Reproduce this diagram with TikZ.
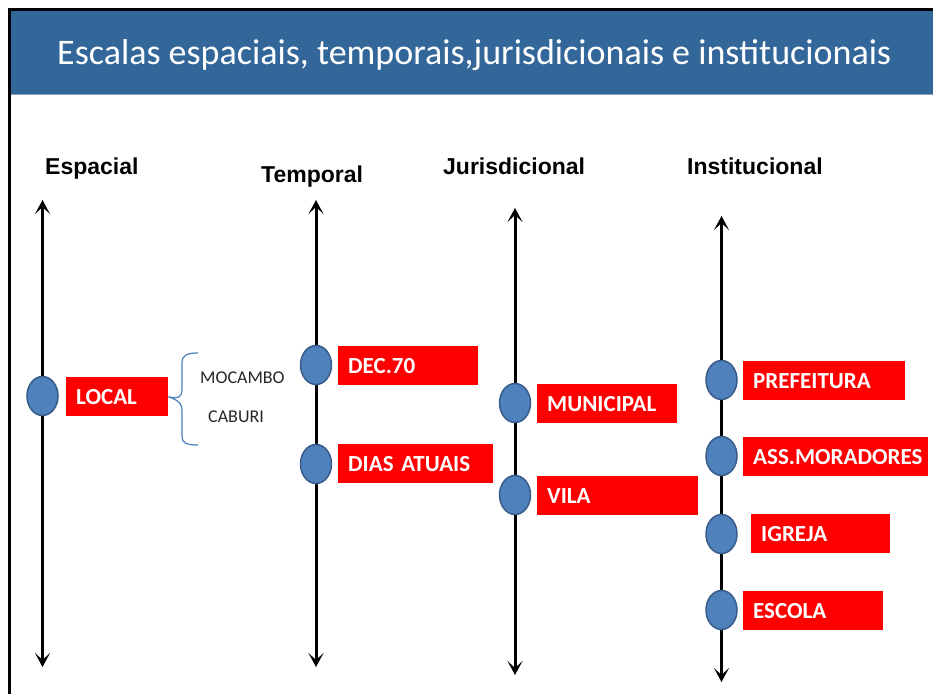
\documentclass[tikz,border=0pt]{standalone}
\usepackage{fontspec}
\setmainfont{Carlito}
\newfontfamily\headfont{Liberation Sans}
\usetikzlibrary{arrows.meta,shapes.geometric}
\definecolor{hdrblue}{HTML}{336699}
\definecolor{ellfill}{HTML}{4F81BD}
\definecolor{elldraw}{HTML}{385D8A}
\definecolor{boxred}{HTML}{FF0000}
\definecolor{bracecol}{HTML}{4A7EBB}
\definecolor{smalltext}{HTML}{262626}
\tikzset{
  redbox/.style={fill=boxred, draw=none, anchor=north west, minimum height=39pt,
    inner xsep=10pt, inner ysep=0pt, text height=14.8pt, text depth=0pt,
    align=left, text=white, font=\bfseries\fontsize{23}{27}\selectfont},
  dot/.style={ellipse, fill=ellfill, draw=elldraw, line width=1.5pt,
    minimum width=31pt, minimum height=39pt, inner sep=0pt},
  axis/.style={line width=3pt, {Stealth[length=14pt,width=15pt,inset=7pt]}-{Stealth[length=14pt,width=15pt,inset=7pt]}},
  colhead/.style={anchor=base west, inner sep=0pt, font=\headfont\bfseries\fontsize{23}{27}\selectfont},
  sidetext/.style={anchor=base west, inner sep=0pt, text=smalltext, font=\fontsize{18}{21}\selectfont},
}
\begin{document}
\begin{tikzpicture}[x=1pt,y=-1pt]
\useasboundingbox (0,0) rectangle (933,693);
\fill[white] (0,0) rectangle (933,693);
% header
\fill[hdrblue] (11,11) rectangle (940,94);
\draw[line width=1pt, color=hdrblue!60!white] (11,94.5) -- (940,94.5);
\draw[line width=2.5pt] (9.5,700) -- (9.5,9.5) -- (940,9.5);
\node[anchor=base west, inner sep=0pt, text=white, font=\fontsize{36}{40}\selectfont] (title) at (57,64) {Escalas espaciais, temporais,jurisdicionais e institucionais};
% column headings
\node[colhead] (hesp) at (45,174) {Espacial};
\node[colhead] (htem) at (261,182) {Temporal};
\node[colhead] (hjur) at (443,174) {Jurisdicional};
\node[colhead] (hins) at (687,174) {Institucional};
% axes
\coordinate (a1top) at (42.5,200); \coordinate (a1bot) at (42.5,667);
\coordinate (a2top) at (316,200);  \coordinate (a2bot) at (316,667);
\coordinate (a3top) at (515,208);  \coordinate (a3bot) at (515,675);
\coordinate (a4top) at (721.5,216);\coordinate (a4bot) at (721.5,682);
\draw[axis] (a1bot) -- (a1top);
\draw[axis] (a2bot) -- (a2top);
\draw[axis] (a3bot) -- (a3top);
\draw[axis] (a4bot) -- (a4top);
% dots
\node[dot] (e1) at (42.5,396) {};
\node[dot] (t1) at (316,365) {};
\node[dot] (t2) at (316,464) {};
\node[dot] (j1) at (515,403) {};
\node[dot] (j2) at (515,495) {};
\node[dot] (i1) at (721.5,380) {};
\node[dot] (i2) at (721.5,456) {};
\node[dot] (i3) at (721.5,534) {};
\node[dot] (i4) at (721.5,610) {};
% red boxes
\node[redbox, text width=82pt]  (local)  at (66,377)  {LOCAL};
\node[redbox, text width=120pt] (dec)    at (338,346) {DEC.70};
\node[redbox, text width=135pt] (dias)   at (338,444) {DIAS ATUAIS};
\node[redbox, text width=120pt] (muni)   at (537,384) {MUNICIPAL};
\node[redbox, text width=141pt] (vila)   at (537,476) {VILA};
\node[redbox, text width=142pt] (pref)   at (743,361) {PREFEITURA};
\node[redbox, text width=165pt] (ass)    at (743,437) {ASS.MORADORES};
\node[redbox, text width=119pt] (igreja) at (751,514) {IGREJA};
\node[redbox, text width=120pt] (escola) at (743,591) {ESCOLA};
% brace
\coordinate (btop) at (198,353);
\coordinate (bbot) at (198,445);
\draw[bracecol, line width=1.2pt]
  (btop) .. controls (187,353) and (182,355) .. (182,363) -- (182,390)
  .. controls (182,396) and (179,399.5) .. (local.east)
  .. controls (179,400.5) and (182,404) .. (182,410) -- (182,437)
  .. controls (182,443) and (187,445) .. (bbot);
\node[sidetext] (moc) at (200,383) {MOCAMBO};
\node[sidetext] (cab) at (208,422) {CABURI};
\end{tikzpicture}
\end{document}
